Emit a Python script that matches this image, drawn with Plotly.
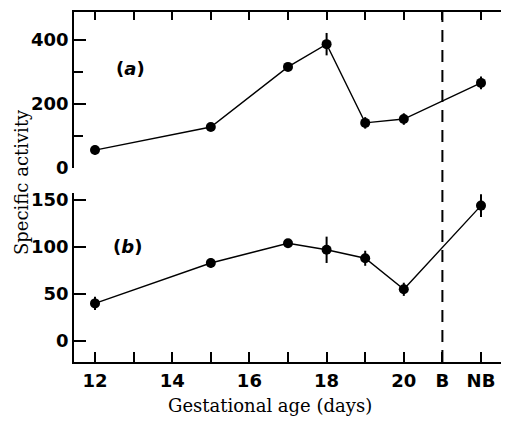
import plotly.graph_objects as go

# Data
days = [12, 15, 17, 18, 19, 20, 22]          # 21 = B (birth), 22 = NB (newborn)
act_a = [56, 128, 316, 387, 141, 153, 266]
err_a = [14, 10, 8, 35, 18, 18, 20]
act_b = [40, 83, 104, 97, 88, 55, 144]
err_b = [7, 5, 3, 14, 8, 7, 12]

xtick_vals = [12, 13, 14, 15, 16, 17, 18, 19, 20, 21, 22]
xtick_text = ["12", "", "14", "", "16", "", "18", "", "20", "B", "NB"]
birth_x = 21

# page body has an 8px offset, so the figure is drawn slightly smaller
OFF = 8
W, H = 509 - OFF, 423 - OFF
ML, MR, MT, MB = 74 - OFF, 0, 12 - OFF, 61
plot_w = W - ML - MR
plot_h = H - MT - MB
BOTTOM = 362  # page pixel of the bottom axis


def px(xp):
    return (xp - 74) / plot_w


def py(yp):
    return (BOTTOM - yp) / plot_h


tickfont = dict(family="DejaVu Sans", size=18, color="black", weight="bold")

fig = go.Figure()
fig.add_trace(go.Scatter(
    x=days, y=act_a, mode="lines+markers", xaxis="x2", yaxis="y",
    line=dict(color="black", width=1.4),
    marker=dict(color="black", size=10),
    error_y=dict(type="data", array=err_a, color="black", thickness=2, width=0),
    showlegend=False))
fig.add_trace(go.Scatter(
    x=days, y=act_b, mode="lines+markers", xaxis="x", yaxis="y2",
    line=dict(color="black", width=1.4),
    marker=dict(color="black", size=10),
    error_y=dict(type="data", array=err_b, color="black", thickness=2, width=0),
    showlegend=False))

xr = [12 - 21 / 38.6, 12 + (509 - 95) / 38.6]
top_dom = [py(168), 1]
bot_dom = [0, py(193)]
ra = [0, 487.5]
rb = [-22.3, 157.4]

fig.update_layout(
    width=W, height=H, margin=dict(l=ML, r=MR, t=MT, b=MB),
    paper_bgcolor="white", plot_bgcolor="white",
    xaxis=dict(domain=[0, 1], anchor="y2", range=xr, showgrid=False, zeroline=False,
               showline=True, linecolor="black", linewidth=1.5,
               tickmode="array", tickvals=xtick_vals, ticktext=xtick_text,
               ticks="inside", ticklen=10, tickwidth=1.5, tickcolor="black",
               tickfont=tickfont, ticklabelstandoff=2),
    xaxis2=dict(domain=[0, 1], anchor="y", side="top", range=xr, showgrid=False,
                zeroline=False, showline=True, linecolor="black", linewidth=1.5,
                tickmode="array", tickvals=xtick_vals, showticklabels=False,
                ticks="inside", ticklen=8, tickwidth=1.5, tickcolor="black"),
    yaxis=dict(domain=top_dom, anchor="x", range=ra, showgrid=False, zeroline=False,
               showline=True, linecolor="black", linewidth=1.5,
               tickmode="array", tickvals=[0, 200, 400],
               ticks="inside", ticklen=12, tickwidth=1.5, tickcolor="black",
               minor=dict(tickmode="array", tickvals=[100, 300], ticks="inside",
                          ticklen=9, tickwidth=1.5, tickcolor="black"),
               tickfont=tickfont),
    yaxis2=dict(domain=bot_dom, anchor="x", range=rb, showgrid=False, zeroline=False,
                showline=True, linecolor="black", linewidth=1.5,
                tickmode="array", tickvals=[0, 50, 100, 150],
                ticks="inside", ticklen=12, tickwidth=1.5, tickcolor="black",
                tickfont=tickfont),
    yaxis3=dict(domain=top_dom, anchor="free", overlaying="y", side="right",
                position=1, range=ra, showgrid=False, zeroline=False, showline=False,
                tickmode="array", tickvals=[0, 100, 200, 300, 400],
                ticks="inside", ticklen=8, tickwidth=1.5, tickcolor="black",
                showticklabels=False),
    yaxis4=dict(domain=bot_dom, anchor="free", overlaying="y2", side="right",
                position=1, range=rb, showgrid=False, zeroline=False, showline=False,
                tickmode="array", tickvals=[0, 50, 100, 150],
                ticks="inside", ticklen=8, tickwidth=1.5, tickcolor="black",
                showticklabels=False),
    shapes=[dict(type="line", xref="x", yref="paper", x0=birth_x, x1=birth_x,
                 y0=0, y1=1, line=dict(color="black", width=2, dash="12px,8px"))],
    annotations=[
        dict(text="Specific activity", textangle=-90, xref="paper", yref="paper",
             x=px(21), y=py(182), xanchor="center", yanchor="middle", showarrow=False,
             font=dict(family="DejaVu Serif", size=18, color="black")),
        dict(text="Gestational age (days)", xref="paper", yref="paper",
             x=px(270), y=py(405), xanchor="center", yanchor="middle", showarrow=False,
             font=dict(family="DejaVu Serif", size=18, color="black")),
        dict(text="(<i>a</i>)", xref="paper", yref="paper",
             x=px(130), y=py(68), xanchor="center", yanchor="middle", showarrow=False,
             font=dict(family="DejaVu Sans", size=18, color="black", weight="bold")),
        dict(text="(<i>b</i>)", xref="paper", yref="paper",
             x=px(127), y=py(246), xanchor="center", yanchor="middle", showarrow=False,
             font=dict(family="DejaVu Sans", size=18, color="black", weight="bold")),
    ],
)

# Dummy traces so the right-hand tick axes are rendered
fig.add_trace(go.Scatter(x=[None], y=[None], xaxis="x2", yaxis="y3", showlegend=False,
                         hoverinfo="skip"))
fig.add_trace(go.Scatter(x=[None], y=[None], xaxis="x", yaxis="y4", showlegend=False,
                         hoverinfo="skip"))

fig.write_html("out.html")
